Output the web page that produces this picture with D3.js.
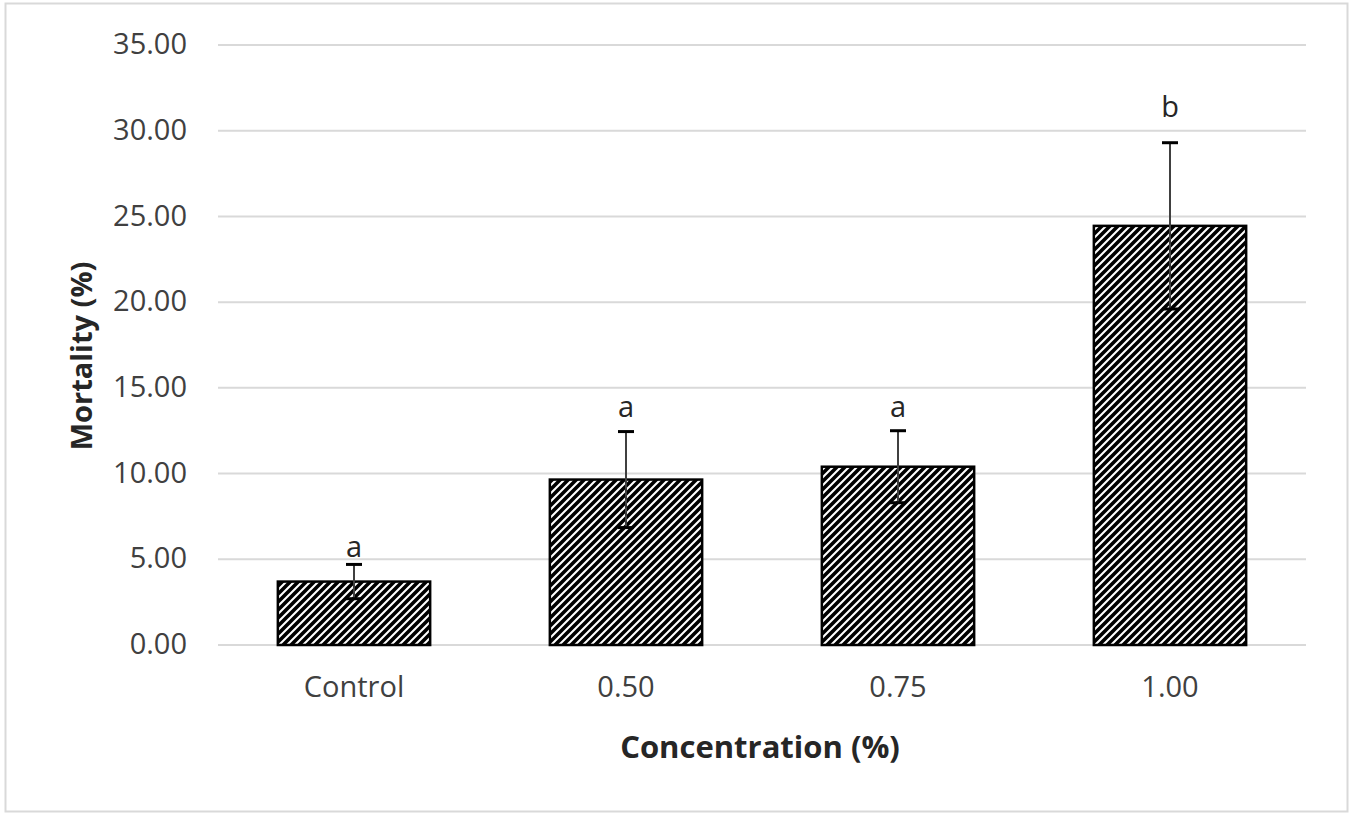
<!DOCTYPE html>
<html><head><meta charset="utf-8">
<script src="https://cdn.jsdelivr.net/npm/d3@7"></script>
<style>html,body{margin:0;padding:0;background:#fff;} svg{display:block;}</style>
</head><body>
<svg id="chart" width="1354" height="822"></svg>
<script>
const categories = ["Control", "0.50", "0.75", "1.00"];
const values = [3.70, 9.65, 10.40, 24.45];
const errors = [1.00, 2.80, 2.10, 4.85];
const letters = ["a", "a", "a", "b"];
const letterLevels = [5.15, 13.3, 13.3, 30.8];
const yTicks = [0, 5, 10, 15, 20, 25, 30, 35];

const svg = d3.select("#chart");
const font = "Open Sans, Noto Sans, sans-serif";
const plotLeft = 218, plotRight = 1306, plotTop = 45, plotBottom = 645;

svg.append("rect").attr("x", 5.5).attr("y", 3.5).attr("width", 1342).attr("height", 808)
  .attr("fill", "#fff").attr("stroke", "#d9d9d9").attr("stroke-width", 2);

const defs = svg.append("defs");
const pat = defs.append("pattern").attr("id", "hatch").attr("patternUnits", "userSpaceOnUse")
  .attr("width", 8).attr("height", 8);
pat.append("rect").attr("width", 8).attr("height", 8).attr("fill", "#fff");
pat.append("path").attr("d", "M-2,2 L2,-2 M0,8 L8,0 M6,10 L10,6")
  .attr("stroke", "#000").attr("stroke-width", 3.6);

const x = d3.scaleBand().domain(categories).range([plotLeft, plotRight]).paddingInner(0.44).paddingOuter(0.22);
const y = d3.scaleLinear().domain([0, 35]).range([plotBottom, plotTop]);

// gridlines
svg.append("g").selectAll("line").data(yTicks).join("line")
  .attr("x1", plotLeft).attr("x2", plotRight)
  .attr("y1", d => y(d)).attr("y2", d => y(d))
  .attr("stroke", "#d9d9d9").attr("stroke-width", 2);

// y axis labels
const yAxis = d3.axisLeft(y).tickValues(yTicks).tickFormat(d3.format(".2f")).tickSize(0).tickPadding(0);
const ya = svg.append("g").attr("transform", "translate(187,0)").call(yAxis);
ya.select(".domain").remove();
ya.selectAll("text").attr("font-family", font).attr("font-size", 29).attr("fill", "#404040").attr("dy", "0.3em");

// bars
svg.append("g").selectAll("rect").data(categories).join("rect")
  .attr("x", d => x(d)).attr("width", x.bandwidth())
  .attr("y", (d, i) => y(values[i])).attr("height", (d, i) => y(0) - y(values[i]))
  .attr("fill", "url(#hatch)").attr("stroke", "#000").attr("stroke-width", 2.5);

// error bars
const eb = svg.append("g");
categories.forEach((c, i) => {
  const cx = x(c) + x.bandwidth() / 2;
  eb.append("line").attr("x1", cx).attr("x2", cx)
    .attr("y1", y(values[i] - errors[i])).attr("y2", y(values[i] + errors[i]))
    .attr("stroke", "#404040").attr("stroke-width", 2);
  [values[i] + errors[i], values[i] - errors[i]].forEach(v => {
    eb.append("line").attr("x1", cx - 8).attr("x2", cx + 8)
      .attr("y1", y(v)).attr("y2", y(v))
      .attr("stroke", "#000").attr("stroke-width", 3);
  });
  eb.append("text").attr("x", cx).attr("y", y(letterLevels[i]))
    .attr("text-anchor", "middle").attr("font-family", font).attr("font-size", 29)
    .attr("fill", "#262626").text(letters[i]);
});

// x axis labels
const xAxis = d3.axisBottom(x).tickSize(0).tickPadding(0);
const xa = svg.append("g").attr("transform", `translate(0,${plotBottom})`).call(xAxis);
xa.select(".domain").remove();
xa.selectAll("text").attr("font-family", font).attr("font-size", 29).attr("fill", "#404040")
  .attr("dy", null).attr("y", 52);

// axis titles
svg.append("text").attr("x", (plotLeft + plotRight) / 2 - 2).attr("y", 758).attr("text-anchor", "middle")
  .attr("font-family", font).attr("font-size", 31).attr("font-weight", "bold").attr("fill", "#262626")
  .text("Concentration (%)");
svg.append("text").attr("transform", `translate(92,356) rotate(-90)`)
  .attr("text-anchor", "middle")
  .attr("font-family", font).attr("font-size", 29).attr("font-weight", "bold").attr("fill", "#262626")
  .text("Mortality (%)");
</script>
</body></html>
